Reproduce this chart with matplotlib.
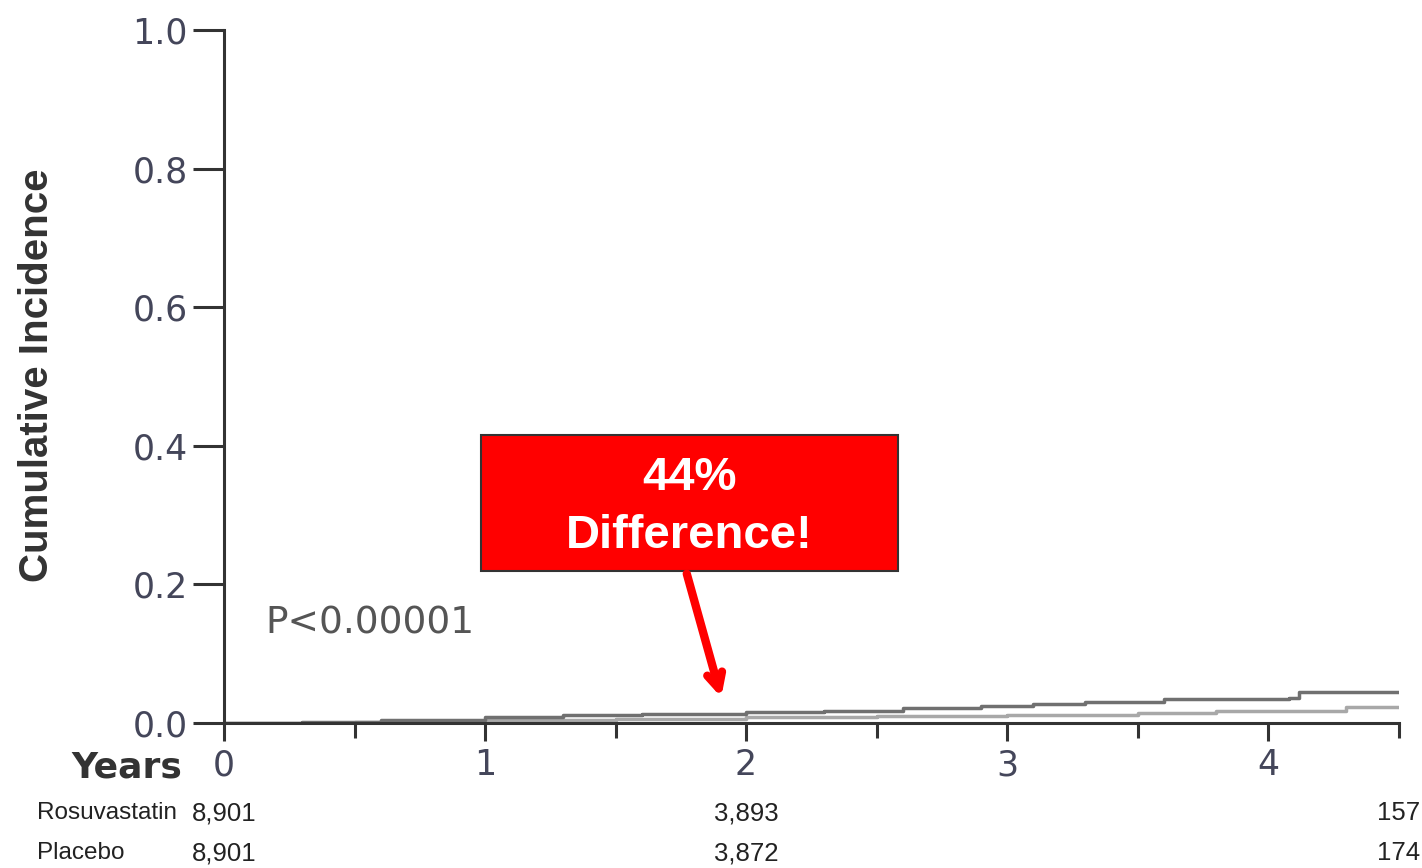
import matplotlib
matplotlib.use("Agg")
import matplotlib.pyplot as plt
from matplotlib.patches import Rectangle

# step curves (years, cumulative incidence)
placebo_t = [0, 0.3, 0.6, 1.0, 1.3, 1.6, 2.0, 2.3, 2.6, 2.9, 3.1, 3.3, 3.6, 3.9, 4.08, 4.12, 4.5]
placebo_y = [0, 0.002, 0.005, 0.008, 0.011, 0.013, 0.016, 0.018, 0.021, 0.024, 0.028, 0.031, 0.034, 0.035, 0.036, 0.045, 0.045]
rosu_t = [0, 0.5, 1.0, 1.5, 2.0, 2.5, 3.0, 3.5, 3.8, 4.0, 4.3, 4.5]
rosu_y = [0, 0.002, 0.004, 0.006, 0.008, 0.010, 0.012, 0.015, 0.017, 0.018, 0.023, 0.023]

x_ticks = [0, 1, 2, 3, 4]
y_ticks = [0.0, 0.2, 0.4, 0.6, 0.8, 1.0]

risk_times = [0, 2, 4.5]
risk_rosu = ["8,901", "3,893", "157"]
risk_placebo = ["8,901", "3,872", "174"]

fig = plt.figure(figsize=(14.22, 8.68), dpi=100)
ax = fig.add_axes([224 / 1422, 1 - 723 / 868, 1174.5 / 1422, 693 / 868])

ax.step(rosu_t, rosu_y, where="post", color="#a8a8a8", lw=2.5)
ax.step(placebo_t, placebo_y, where="post", color="#707070", lw=2.5)

ax.set_xlim(0, 4.5)
ax.set_ylim(0, 1.0)
for s in ["top", "right"]:
    ax.spines[s].set_visible(False)
for s in ["left", "bottom"]:
    ax.spines[s].set_linewidth(2.2)
    ax.spines[s].set_color("#333333")

tick_col = "#44465a"
ax.set_xticks(x_ticks)
ax.set_xticks([0.5, 1.5, 2.5, 3.5, 4.5], minor=True)
ax.set_yticks(y_ticks)
ax.set_yticklabels([f"{v:.1f}" for v in y_ticks])
ax.tick_params(axis="x", which="major", length=13, width=2.2, color="#333333",
               labelsize=25, labelcolor=tick_col, pad=5)
ax.tick_params(axis="x", which="minor", length=11, width=2.2, color="#333333")
ax.tick_params(axis="y", length=22, width=2.2, color="#333333",
               labelsize=25, labelcolor=tick_col, pad=4)
for lab in ax.get_xticklabels() + ax.get_yticklabels():
    lab.set_family("DejaVu Sans")

fig.text(37 / 1422, 1 - 375 / 868, "Cumulative Incidence", rotation=90,
         ha="center", va="center", fontsize=29, fontweight="bold",
         color="#333333", family="Liberation Sans")
fig.text(182 / 1422, 1 - 767 / 868, "Years", ha="right", va="center",
         fontsize=26, fontweight="bold", color="#333333", family="DejaVu Sans")

ax.text(0.16, 0.143, "P<0.00001", fontsize=27, color="#555555",
        family="DejaVu Sans", va="center")

# numbers at risk
trans = ax.get_xaxis_transform()
rows = [("Rosuvastatin", risk_rosu, -0.13), ("Placebo", risk_placebo, -0.188)]
for name, vals, yy in rows:
    ax.text(-0.716, yy, name, transform=trans, ha="left", va="center",
            fontsize=17.5, color="#222222", family="Liberation Sans", clip_on=False)
    for t, v in zip(risk_times, vals):
        ax.text(t, yy, v, transform=trans, ha="center", va="center",
                fontsize=18.5, color="#222222", family="Liberation Sans", clip_on=False)

# red callout
bx0, bx1 = (481 - 224) / 261, (898 - 224) / 261
by0, by1 = (723 - 571) / 693, (723 - 435) / 693
ax.add_patch(Rectangle((bx0, by0), bx1 - bx0, by1 - by0, facecolor="#ff0000",
                       edgecolor="#333333", lw=1.5, zorder=5, clip_on=False))
ax.text((bx0 + bx1) / 2, (by0 + by1) / 2 - 0.006, "44%\nDifference!", ha="center",
        va="center", fontsize=34, fontweight="bold", color="white",
        family="Liberation Sans", linespacing=1.4, zorder=6)
ax.annotate("", xy=((722 - 224) / 261, (723 - 700) / 693),
            xytext=((686 - 224) / 261, by0),
            arrowprops=dict(arrowstyle="->,head_length=1.1,head_width=0.55",
                            color="#ff0000", lw=6), zorder=6)

fig.savefig("out.png", dpi=100)
